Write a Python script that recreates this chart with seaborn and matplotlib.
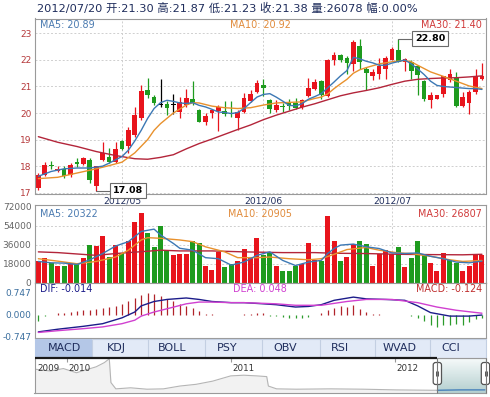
import numpy as np
import matplotlib
matplotlib.use("Agg")
import matplotlib.pyplot as plt
from matplotlib.patches import Rectangle, FancyBboxPatch
from matplotlib.colors import LinearSegmentedColormap
import seaborn as sns

# daily candles, 2012/04 .. 2012/07/20
opens = [17.18, 17.68, 18.05, 17.80, 17.90, 17.68, 18.17, 18.07, 18.24, 17.24,
         18.24, 18.33, 18.15, 18.95, 18.74, 19.17, 19.80, 20.85, 20.61, 20.32,
         20.34, 20.30, 20.04, 20.30, 20.54, 20.11, 19.67, 20.02, 20.07, 20.07,
         20.02, 19.82, 20.04, 20.44, 20.79, 21.07, 20.48, 20.11, 20.27, 20.39,
         20.39, 20.23, 20.64, 20.92, 21.19, 20.64, 21.98, 22.19, 22.09, 21.85,
         22.51, 21.66, 21.41, 21.48, 21.66, 22.01, 22.39, 21.91, 21.91, 21.79,
         21.19, 20.48, 20.54, 20.73, 21.23, 21.32, 20.27, 20.36, 20.79, 21.30]
highs = [17.74, 18.15, 18.18, 18.00, 17.99, 18.10, 18.30, 18.36, 18.30, 18.00,
         18.90, 18.70, 18.90, 18.99, 19.48, 20.23, 21.07, 21.31, 20.67, 21.30,
         20.44, 20.70, 20.60, 20.89, 21.19, 20.17, 20.02, 20.17, 20.29, 20.44,
         20.44, 20.10, 20.77, 20.85, 21.23, 21.27, 20.52, 20.48, 20.36, 20.52,
         20.57, 20.52, 21.32, 21.29, 21.23, 22.04, 22.29, 22.22, 22.16, 22.76,
         22.78, 21.73, 21.66, 22.06, 22.16, 22.47, 22.80, 22.06, 21.98, 21.81,
         21.23, 20.79, 20.69, 21.41, 21.66, 21.54, 20.79, 20.85, 21.66, 21.87]
lows = [17.09, 17.62, 17.90, 17.78, 17.55, 17.60, 17.98, 18.05, 17.37, 17.08,
        18.20, 18.10, 18.10, 18.60, 18.49, 19.11, 19.73, 20.57, 20.30, 20.23,
        19.92, 19.97, 19.80, 20.24, 20.30, 19.65, 19.55, 19.80, 19.32, 19.90,
        19.85, 19.36, 20.02, 20.42, 20.77, 20.64, 20.02, 20.05, 20.05, 20.10,
        20.17, 20.17, 20.61, 20.88, 20.54, 20.61, 21.81, 21.91, 21.48, 21.60,
        21.66, 20.85, 21.23, 21.29, 21.27, 21.98, 21.91, 21.60, 21.29, 20.67,
        20.44, 20.19, 20.52, 20.61, 21.17, 20.23, 20.23, 19.98, 20.73, 21.23]
closes = [17.65, 18.05, 18.00, 17.90, 17.62, 18.05, 18.07, 18.30, 17.49, 17.99,
          18.49, 18.15, 18.65, 18.65, 19.36, 19.94, 20.82, 20.67, 20.36, 20.32,
          20.19, 20.30, 20.42, 20.57, 20.39, 19.67, 19.90, 20.10, 20.23, 19.95,
          19.97, 20.04, 20.57, 20.73, 21.14, 20.96, 20.17, 20.29, 20.22, 20.27,
          20.19, 20.48, 20.94, 21.17, 20.67, 22.01, 22.19, 21.98, 21.89, 22.68,
          21.91, 21.51, 21.54, 21.76, 22.06, 22.41, 21.94, 22.04, 21.60, 21.44,
          20.52, 20.69, 20.67, 21.38, 21.48, 20.27, 20.61, 20.79, 21.38, 21.38]
volumes = [20000, 23300, 18700, 16100, 16100, 18100, 17800, 23300, 35500, 34600,
           44300, 24200, 35500, 28100, 39400, 57800, 65600, 46800, 33300, 53900,
           30000, 26500, 27100, 27500, 39700, 37100, 16100, 12300, 29000, 15200,
           17800, 20000, 31700, 23300, 42600, 25800, 29000, 16100, 11300, 11300,
           15500, 17800, 37100, 21000, 20000, 63600, 39700, 20300, 24200, 36500,
           39400, 36800, 16100, 26800, 30700, 27500, 33900, 14500, 23600, 39400,
           27500, 18400, 11300, 28100, 21600, 18700, 11300, 16100, 26800, 26078]
vol_up = [1, 1, 0, 1, 0, 1, 0, 1, 0, 1, 1, 0, 1, 0, 1, 1, 1, 0, 0, 0,
          0, 1, 1, 1, 0, 0, 1, 1, 1, 0, 0, 1, 1, 1, 1, 0, 0, 1, 0, 0,
          0, 1, 1, 1, 0, 1, 1, 0, 1, 1, 0, 0, 1, 1, 1, 1, 0, 1, 0, 0,
          0, 1, 1, 1, 0, 0, 1, 1, 1, 1]

# moving averages (bar number -> value)
ma5_bars = [1, 3, 5, 7, 9, 11, 12, 13, 14, 15, 16, 17, 18, 19, 20, 21, 22, 23, 24, 25,
            26, 27, 28, 29, 30, 31, 32, 33, 34, 35, 36, 37, 38, 39, 40, 41, 42, 43, 44,
            45, 46, 47, 48, 49, 50, 51, 52, 53, 54, 55, 56, 57, 58, 59, 60, 61, 62, 63,
            64, 65, 66, 67, 68, 69, 70]
ma5 = [17.62, 17.80, 17.90, 17.93, 17.93, 18.00, 18.11, 18.24, 18.36, 18.60, 18.95, 19.35,
       19.80, 20.17, 20.39, 20.48, 20.44, 20.38, 20.36, 20.39, 20.29, 20.23, 20.14, 20.04,
       20.02, 19.98, 20.02, 20.17, 20.39, 20.60, 20.70, 20.73, 20.60, 20.45, 20.29, 20.27,
       20.35, 20.52, 20.62, 20.73, 20.95, 21.17, 21.40, 21.60, 22.10, 22.04, 21.95, 21.89,
       21.80, 21.80, 21.88, 21.94, 22.00, 21.85, 21.66, 21.45, 21.20, 21.04, 21.00, 20.98,
       20.96, 20.94, 20.92, 20.92, 20.89]
ma10_bars = [1, 4, 7, 10, 12, 14, 16, 17, 18, 19, 20, 21, 22, 23, 24, 25, 26, 27, 28, 30,
             32, 34, 36, 38, 40, 42, 44, 45, 46, 47, 48, 49, 50, 51, 52, 54, 56, 58, 59,
             60, 62, 64, 66, 68, 70]
ma10 = [17.53, 17.58, 17.74, 17.90, 18.02, 18.15, 18.50, 18.75, 19.00, 19.35, 19.60, 19.80,
        20.00, 20.15, 20.30, 20.39, 20.38, 20.32, 20.26, 20.20, 20.17, 20.20, 20.30, 20.38,
        20.40, 20.42, 20.55, 20.60, 20.72, 20.92, 21.10, 21.27, 21.50, 21.63, 21.71, 21.85,
        21.93, 21.98, 21.93, 21.80, 21.55, 21.38, 21.20, 21.02, 20.92]
ma30_bars = [1, 4, 7, 10, 13, 16, 18, 20, 22, 24, 26, 28, 30, 32, 34, 36, 38, 40, 42, 44,
             46, 48, 50, 52, 54, 56, 58, 60, 62, 64, 66, 68, 70]
ma30 = [19.11, 18.90, 18.74, 18.55, 18.40, 18.28, 18.26, 18.33, 18.43, 18.65, 18.85, 19.02,
        19.20, 19.38, 19.55, 19.75, 19.92, 20.07, 20.22, 20.35, 20.50, 20.65, 20.76, 20.85,
        20.95, 21.08, 21.20, 21.27, 21.30, 21.32, 21.33, 21.36, 21.40]

vma5_bars = [1, 3, 5, 7, 9, 11, 13, 15, 17, 19, 20, 22, 23, 25, 27, 29, 31, 33, 35, 37,
             39, 41, 43, 45, 46, 47, 48, 50, 52, 54, 56, 58, 60, 62, 64, 66, 68, 70]
vma5 = [20000, 18700, 18400, 17100, 21600, 27500, 34600, 38800, 48500, 50700, 45200, 37100,
        32500, 30700, 23600, 22600, 16500, 19500, 25800, 29100, 21000, 16100, 19400, 21000,
        27500, 32300, 35500, 36500, 33900, 32300, 28100, 27500, 28100, 24900, 22600, 19400,
        18700, 20322]
vma10_bars = [1, 4, 7, 10, 13, 15, 17, 18, 20, 23, 25, 27, 30, 32, 35, 37, 40, 43, 45, 47,
              49, 52, 54, 57, 59, 62, 65, 67, 70]
vma10 = [22600, 20300, 17800, 20000, 24200, 30700, 40400, 42600, 42000, 40400, 38800, 33900,
         29100, 23600, 23600, 24200, 22600, 21600, 22600, 26800, 31300, 33300, 30700, 28100,
         27500, 24900, 21600, 20000, 20905]
vma30_bars = [1, 4, 10, 13, 15, 18, 20, 23, 28, 33, 39, 44, 47, 52, 57, 62, 67, 70]
vma30 = [29100, 28400, 25800, 27500, 28400, 29700, 30700, 30000, 30000, 29100, 28400, 28400,
         27800, 27500, 26800, 26500, 26300, 26807]

# MACD
dif_bars = [1, 4, 8, 11, 14, 16, 17, 19, 21, 24, 26, 28, 31, 33, 36, 38, 41, 43, 45, 47,
            50, 52, 55, 58, 60, 62, 65, 68, 70]
dif = [-0.59, -0.50, -0.40, -0.31, -0.11, 0.09, 0.30, 0.45, 0.52, 0.57, 0.52, 0.45, 0.41,
       0.41, 0.37, 0.34, 0.26, 0.28, 0.34, 0.49, 0.60, 0.54, 0.52, 0.49, 0.30, 0.07, -0.05,
       -0.05, -0.014]
dea_bars = [1, 4, 8, 11, 14, 16, 17, 19, 21, 24, 26, 28, 31, 33, 38, 41, 45, 49, 52, 56,
            60, 63, 66, 70]
dea = [-0.61, -0.55, -0.48, -0.42, -0.31, -0.19, -0.05, 0.09, 0.20, 0.37, 0.43, 0.43, 0.41,
       0.41, 0.37, 0.32, 0.32, 0.45, 0.52, 0.52, 0.41, 0.26, 0.15, 0.048]
macd_hist = [-0.22, -0.04, 0.0, 0.05, 0.07, 0.10, 0.13, 0.16, 0.15, 0.19,
             0.23, 0.26, 0.30, 0.36, 0.45, 0.58, 0.67, 0.74, 0.71, 0.63,
             0.54, 0.45, 0.37, 0.31, 0.22, 0.11, 0.03, 0.01, -0.01, -0.02,
             -0.02, -0.01, 0.01, 0.03, 0.05, 0.04, -0.04, -0.06, -0.08, -0.10,
             -0.12, -0.10, -0.07, -0.02, 0.04, 0.15, 0.24, 0.28, 0.26, 0.32,
             0.20, 0.09, 0.02, 0.01, -0.01, -0.02, -0.02, -0.01, -0.04, -0.11,
             -0.23, -0.36, -0.42, -0.36, -0.34, -0.31, -0.34, -0.25, -0.16, -0.124]

month_pos = [13, 35, 55]
month_labels = ['2012/05', '2012/06', '2012/07']
last_date = '2012/07/20'

# overview strip (year, relative level)
nav_year = [2009.81, 2009.90, 2009.98, 2010.06, 2010.13, 2010.18, 2010.23, 2010.26, 2010.27,
            2010.30, 2010.39, 2010.49, 2010.59, 2010.69, 2010.79, 2010.89, 2011.00, 2011.08,
            2011.16, 2011.22, 2011.23, 2011.28, 2011.40, 2011.61, 2011.81, 2012.01, 2012.22,
            2012.26, 2012.40, 2012.55]
nav_level = [67, 62, 69, 57, 67, 74, 86, 97, 29, 11, 14, 10, 11, 19, 24, 33, 48, 50, 48, 46,
             19, 11, 10, 11, 10, 8, 7, 7, 8, 8]
nav_ticks = [2010, 2011, 2012]
nav_labels = ['2009', '2010', '2011', '2012']
nav_label_pos = [2009.81, 2010, 2011, 2012]
sel_start = 2012.26

tab_names = ['MACD', 'KDJ', 'BOLL', 'PSY', 'OBV', 'RSI', 'WVAD', 'CCI']

sns.set_style("white")
plt.rcParams['font.family'] = ['DejaVu Sans', 'Noto Sans CJK SC']

RED, GREEN = '#e8141c', '#1e9b1e'
C5, C10, C30 = '#3c78b4', '#e8912d', '#b3253a'
NAVY = '#1f2d5c'
FRAME = '#9a9a9a'

W, H = 490, 397
fig = plt.figure(figsize=(W / 100, H / 100), dpi=100)


def panel(x0, y0, x1, y1):
    return fig.add_axes([x0 / W, 1 - y1 / H, (x1 - x0) / W, (y1 - y0) / H])


ax_k = panel(34.5, 18.5, 485.5, 193.5)
ax_v = panel(34.5, 204.5, 485.5, 282.5)
ax_m = panel(34.5, 282.5, 485.5, 338.0)
ax_n = panel(34.5, 357.7, 486.0, 392.7)

idx = np.arange(len(closes))
o, h, l, c = map(np.array, (opens, highs, lows, closes))
kcol = np.where(c > o, RED, np.where(c < o, GREEN, 'black'))

for ax in (ax_k, ax_v, ax_m):
    ax.set_xlim(-0.6, 69.55)
    ax.set_xticks([])
    for s in ax.spines.values():
        s.set_color(FRAME)
        s.set_linewidth(0.8)
    ax.tick_params(axis='y', length=0, pad=2.2, labelsize=6.5)

# --- price panel
for p in range(17, 24):
    ax_k.axhline(p, color='#cfcfcf', lw=0.7, ls=(0, (2, 2)), zorder=0)
for m in month_pos:
    ax_k.axvline(m, color='#cfcfcf', lw=0.7, ls=(0, (2, 2)), zorder=0)
    ax_v.axvline(m, color='#cfcfcf', lw=0.7, ls=(0, (2, 2)), zorder=0)

ax_k.vlines(idx, l, h, colors=kcol, lw=0.9, zorder=2)
ax_k.bar(idx, np.maximum(np.abs(c - o), 0.03), bottom=np.minimum(o, c), width=0.72,
         color=kcol, linewidth=0, zorder=2)

for bars, vals, col in ((ma30_bars, ma30, C30), (ma10_bars, ma10, C10), (ma5_bars, ma5, C5)):
    sns.lineplot(x=np.array(bars) - 1, y=vals, ax=ax_k, color=col, lw=1.0, legend=False, zorder=3)

ax_k.set_ylim(16.97, 23.56)
ax_k.set_yticks(range(17, 24))
ax_k.set_yticklabels([str(p) for p in range(17, 24)], color='#b5383a')
ax_k.set_xlabel('')
ax_k.set_ylabel('')

i_lo, i_hi = int(np.argmin(l)), int(np.argmax(h))
for i, val in ((i_lo, l[i_lo]), (i_hi, h[i_hi])):
    ax_k.plot([i, i + 2.3], [val, val], color='#6a6a6a', lw=0.8, clip_on=False, zorder=4)
    ax_k.text(i + 2.6, val, f'{val:.2f}', ha='left', va='center', fontsize=6.8,
              fontweight='bold', color='black', clip_on=False, zorder=5,
              bbox=dict(boxstyle='square,pad=0.3', fc='white', ec='#6a6a6a', lw=0.8))

for m, lab in zip(month_pos, month_labels):
    ax_k.annotate(lab, xy=(m, 0), xycoords=('data', 'axes fraction'), xytext=(0, -7.5),
                  textcoords='offset pixels', ha='center', va='center', fontsize=6.6, color=NAVY)

# --- volume panel
vcol = np.where(np.array(vol_up) == 1, RED, GREEN)
for v in (18000, 36000, 54000):
    ax_v.axhline(v, color='#cfcfcf', lw=0.7, ls=(0, (2, 2)), zorder=0)
ax_v.bar(idx, volumes, width=0.78, color=vcol, linewidth=0, zorder=2)
for bars, vals, col in ((vma30_bars, vma30, C30), (vma10_bars, vma10, C10), (vma5_bars, vma5, C5)):
    sns.lineplot(x=np.array(bars) - 1, y=vals, ax=ax_v, color=col, lw=1.0, legend=False, zorder=3)
ax_v.set_ylim(0, 74100)
vt = [0, 18000, 36000, 54000, 72000]
ax_v.set_yticks(vt)
ax_v.set_yticklabels([str(v) for v in vt], color='#666666')
ax_v.set_xlabel('')
ax_v.set_ylabel('')

# --- MACD panel
hist = np.array(macd_hist)
ax_m.vlines(idx, 0, hist, colors=np.where(hist >= 0, '#b0232a', '#2b9b2b'), lw=0.9, zorder=2)
sns.lineplot(x=np.array(dif_bars) - 1, y=dif, ax=ax_m, color='#1c1c8a', lw=1.0, legend=False, zorder=3)
sns.lineplot(x=np.array(dea_bars) - 1, y=dea, ax=ax_m, color='#d040d0', lw=1.0, legend=False, zorder=3)
ax_m.set_ylim(-0.80, 1.10)
ax_m.set_yticks([-0.747, 0, 0.747])
ax_m.set_yticklabels(['-0.747', '0.000', '0.747'], color='#3a6e9e')
ax_m.set_xlabel('')
ax_m.set_ylabel('')

# --- overview strip
x0n, x1n = 2009.804, 2012.557
ax_n.set_xlim(x0n, x1n)
ax_n.set_ylim(0, 100)
ax_n.set_xticks([])
ax_n.set_yticks([])
for s in ax_n.spines.values():
    s.set_color(FRAME)
    s.set_linewidth(0.8)
ax_n.spines['top'].set_visible(False)
ny, nl = np.array(nav_year), np.array(nav_level)
ax_n.fill_between(ny, nl, color='#f2f2f2', lw=0)
sns.lineplot(x=ny, y=nl, ax=ax_n, color='#b5b5b5', lw=0.8, legend=False)
grad = LinearSegmentedColormap.from_list('sel', ['#b4cfcf', '#f6fafa'])
ax_n.imshow(np.linspace(0, 1, 50).reshape(-1, 1), cmap=grad, aspect='auto', origin='lower',
            extent=[sel_start, x1n, 0, 100], zorder=2)
sel = ny >= sel_start
ax_n.plot(ny[sel], nl[sel], color='#3a78b8', lw=0.9, zorder=3)
ax_n.vlines(nav_ticks, 88, 100, color='#999999', lw=0.8)
for pos, lab in zip(nav_label_pos, nav_labels):
    ax_n.annotate(lab, xy=(pos, 69), xytext=(1.5, 0), textcoords='offset pixels',
                  ha='left', va='center', fontsize=6.3, color='#333333')
ax_n.set_xlabel('')
ax_n.set_ylabel('')

# --- decorations in pixel space
deco = fig.add_axes([0, 0, 1, 1], zorder=5)
deco.set_xlim(0, W)
deco.set_ylim(H, 0)
deco.axis('off')

chg = (closes[-1] - closes[-2]) / closes[-2] * 100
header = (f'{last_date} 开:{opens[-1]:.2f} 高:{highs[-1]:.2f} 低:{lows[-1]:.2f} '
          f'收:{closes[-1]:.2f} 量:{volumes[-1]} 幅:{abs(chg):.2f}%')
deco.text(37, 8.5, header, fontsize=8.2, color=NAVY, ha='left', va='center')

legend_rows = [
    (24.5, [f'MA5: {ma5[-1]:.2f}', f'MA10: {ma10[-1]:.2f}', f'MA30: {ma30[-1]:.2f}'],
     ['#4a7ab0', '#e08a3a', '#d03a3a']),
    (214.3, [f'MA5: {vma5[-1]}', f'MA10: {vma10[-1]}', f'MA30: {vma30[-1]}'],
     ['#4a7ab0', '#e08a3a', '#d03a3a']),
    (289.5, [f'DIF: {dif[-1]:.3f}', f'DEA: {dea[-1]:.3f}', f'MACD: {macd_hist[-1]:.3f}'],
     ['#1c1c8a', '#d040d0', '#c03030']),
]
for y, texts, cols in legend_rows:
    deco.text(40, y, texts[0], color=cols[0], fontsize=6.9, ha='left', va='center')
    deco.text(260, y, texts[1], color=cols[1], fontsize=6.9, ha='center', va='center')
    deco.text(482, y, texts[2], color=cols[2], fontsize=6.9, ha='right', va='center')

# tab row
tab_edges = [34.5, 92, 148, 205, 262, 320, 375, 430, 486]
tab_centers = [64, 116, 172.5, 227, 285, 340, 400, 451]
deco.add_patch(Rectangle((34.5, 338.5), 451.5, 19, fc='#e2eaf7', ec='#c3cfe2', lw=0.8))
deco.add_patch(Rectangle((34.9, 338.9), 57.1, 18.2, fc='#b4c7e7', ec='none'))
deco.vlines(tab_edges[1:-1], 339, 357, color='#c3cfe2', lw=0.8)
for name, cx in zip(tab_names, tab_centers):
    deco.text(cx, 348, name, fontsize=8, color=NAVY, ha='center', va='center')

# overview frame, window and handles
deco.plot([34.5, 437.3], [357.9, 357.9], color='#1a1a1a', lw=1.6, solid_capstyle='butt')
deco.plot([437.3, 486], [357.9, 357.9], color=FRAME, lw=0.8)
deco.vlines([437.3, 485.5], 357.9, 392.7, color='#7a7a7a', lw=0.8)
for hx in (433.2, 481.3):
    deco.add_patch(FancyBboxPatch((hx, 362.5), 8.3, 22, boxstyle='round,pad=0,rounding_size=2.5',
                                  fc='white', ec='#555555', lw=0.9))
    deco.vlines([hx + 3.2, hx + 5.2], 371, 376, color='#555555', lw=0.7)

fig.savefig('out.png', dpi=100)
